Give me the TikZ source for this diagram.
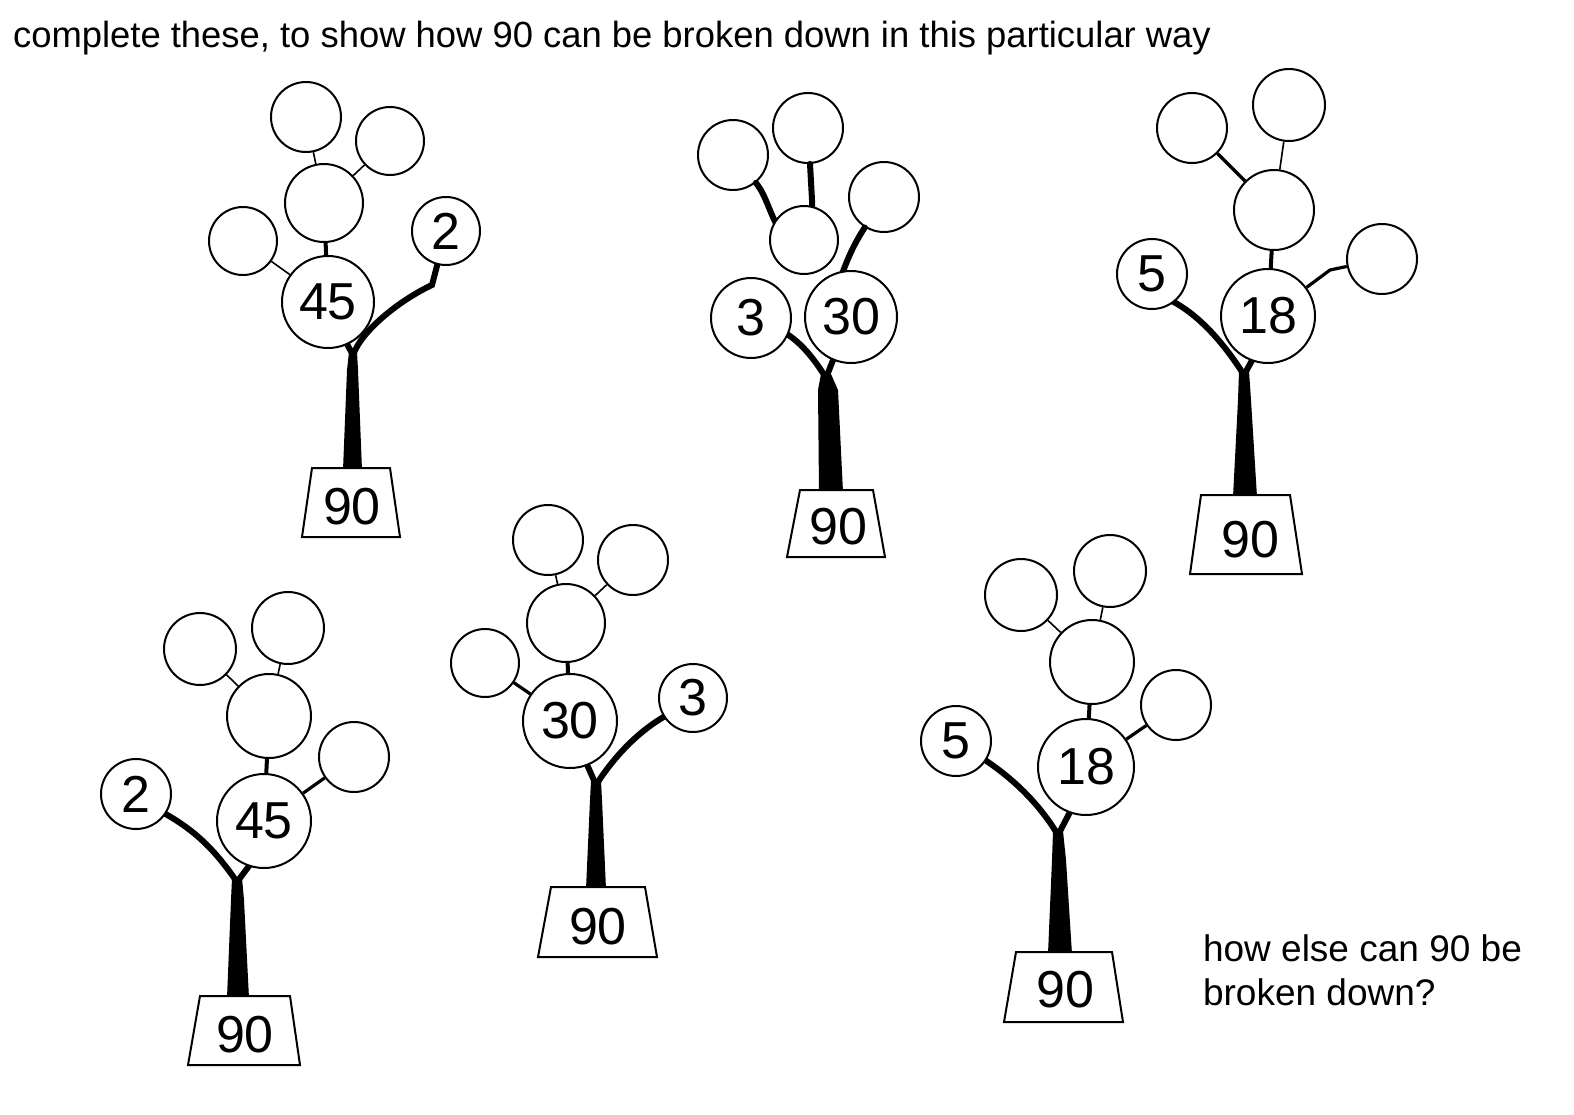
\documentclass[tikz,border=0pt]{standalone}
\usepackage{fontspec}
\setmainfont{Liberation Sans}
\begin{document}
\begin{tikzpicture}[x=0.5pt,y=-0.5pt,
  circ/.style={circle,draw,line width=1pt,fill=white,inner sep=0pt,font=\fontsize{26}{28}\selectfont},
  pot/.style={draw,line width=1pt,fill=white},
  twig/.style={line width=0.8pt},
  branch/.style={line width=3pt,line cap=round},
  potlabel/.style={font=\fontsize{26}{28}\selectfont}]
\useasboundingbox (0,0) rectangle (1574,1114);
\node[anchor=west,font=\fontsize{18.2}{20}\selectfont] (title) at (6,38) {complete these, to show how 90 can be broken down in this particular way};
\node[anchor=north west,align=left,font=\fontsize{18.5}{22}\selectfont] (q) at (1196,928) {how else can 90 be\\broken down?};

% Tree 1
\coordinate (t1) at (353,355);
\fill (343,470) -- (362,470) -- (358,370) -- (357,352) -- (349,352) -- (347,370) -- cycle;
\draw[branch] (t1) .. controls (362,330) and (400,300) .. (432,285) -- (438,262);
\draw[branch] (t1) -- (342,335);
\draw[pot] (312,468) -- (390,468) -- (400,537) -- (302,537) -- cycle;
\node[potlabel] (p1) at (352,507) {90};
\node[circ,minimum size=46pt] (a1) at (328,302) {45};
\node[circ,minimum size=34pt] (b1) at (446,231) {2};
\node[circ,minimum size=34pt] (c1) at (243,241) {};
\node[circ,minimum size=39pt] (d1) at (324,203) {};
\node[circ,minimum size=35pt] (e1) at (306,117) {};
\node[circ,minimum size=34pt] (f1) at (390,141) {};
\draw[twig] (a1) -- (c1); \draw[line width=2pt] (a1) -- (d1); \draw[twig] (d1) -- (e1); \draw[twig] (d1) -- (f1);

% Tree 2
\coordinate (t2) at (826,378);
\fill (819,492) -- (843,492) -- (838,390) -- (831,374) -- (821,374) -- (818,390) -- cycle;
\draw[branch] (t2) .. controls (815,360) and (800,340) .. (780,330);
\draw[branch] (t2) -- (835,355);
\draw[pot] (800,490) -- (873,490) -- (885,557) -- (787,557) -- cycle;
\node[potlabel] (p2) at (838,527) {90};
\node[circ,minimum size=35pt] (e2) at (733,155) {};
\node[circ,minimum size=35pt] (f2) at (808,128) {};
\node[circ,minimum size=35pt] (h2) at (884,197) {};
\draw[branch] (795,250) .. controls (770,225) and (770,200) .. (e2);
\draw[branch] (812,250) -- (812,200) -- (f2);
\draw[branch] (840,280) .. controls (850,250) and (860,235) .. (h2);
\node[circ,minimum size=34pt] (g2) at (804,240) {};
\node[circ,minimum size=40pt] (b2) at (751,318) {3};
\node[circ,minimum size=46pt] (a2) at (851,317) {30};

% Tree 3
\coordinate (t3) at (1244,375);
\fill (1233,497) -- (1257,497) -- (1251,400) -- (1249,371) -- (1239,371) -- (1238,400) -- cycle;
\draw[branch] (t3) .. controls (1225,345) and (1200,315) .. (1170,300);
\draw[branch] (t3) -- (1255,355);
\draw[pot] (1201,495) -- (1290,495) -- (1302,574) -- (1190,574) -- cycle;
\node[potlabel] (p3) at (1250,540) {90};
\node[circ,minimum size=47pt] (a3) at (1268,316) {18};
\node[circ,minimum size=35pt] (b3) at (1152,274) {5};
\node[circ,minimum size=35pt] (c3) at (1382,259) {};
\node[circ,minimum size=40pt] (d3) at (1274,210) {};
\node[circ,minimum size=35pt] (e3) at (1192,128) {};
\node[circ,minimum size=36pt] (f3) at (1289,105) {};
\draw[line width=1.6pt] (a3) -- (1330,270) -- (c3); \draw[line width=2pt] (a3) -- (d3); \draw[line width=1.6pt] (d3) -- (e3); \draw[twig] (d3) -- (f3);

% Tree 4
\coordinate (t4) at (237,882);
\fill (227,998) -- (249,998) -- (244,900) -- (242,878) -- (232,878) -- (231,900) -- cycle;
\draw[branch] (t4) .. controls (215,850) and (195,830) .. (162,812);
\draw[branch] (t4) -- (252,862);
\draw[pot] (200,996) -- (290,996) -- (300,1065) -- (188,1065) -- cycle;
\node[potlabel] (p4) at (245,1035) {90};
\node[circ,minimum size=47pt] (a4) at (264,821) {45};
\node[circ,minimum size=35pt] (b4) at (136,794) {2};
\node[circ,minimum size=35pt] (c4) at (354,757) {};
\node[circ,minimum size=42pt] (d4) at (269,716) {};
\node[circ,minimum size=36pt] (e4) at (200,649) {};
\node[circ,minimum size=36pt] (f4) at (288,628) {};
\draw[line width=1.6pt] (a4) -- (c4); \draw[line width=2pt] (a4) -- (d4); \draw[twig] (d4) -- (e4); \draw[twig] (d4) -- (f4);

% Tree 5
\coordinate (t5) at (596,785);
\fill (586,889) -- (606,889) -- (602,800) -- (601,781) -- (591,781) -- (590,800) -- cycle;
\draw[branch] (t5) .. controls (615,755) and (640,730) .. (667,715);
\draw[branch] (t5) -- (585,760);
\draw[pot] (551,887) -- (645,887) -- (657,957) -- (538,957) -- cycle;
\node[potlabel] (p5) at (598,927) {90};
\node[circ,minimum size=47pt] (a5) at (570,721) {30};
\node[circ,minimum size=34pt] (b5) at (693,698) {3};
\node[circ,minimum size=34pt] (c5) at (485,663) {};
\node[circ,minimum size=39pt] (d5) at (566,623) {};
\node[circ,minimum size=35pt] (e5) at (548,540) {};
\node[circ,minimum size=35pt] (f5) at (633,560) {};
\draw[line width=1.6pt] (a5) -- (c5); \draw[line width=2pt] (a5) -- (d5); \draw[twig] (d5) -- (e5); \draw[twig] (d5) -- (f5);

% Tree 6
\coordinate (t6) at (1058,835);
\fill (1048,954) -- (1072,954) -- (1066,860) -- (1063,831) -- (1053,831) -- (1052,860) -- cycle;
\draw[branch] (t6) .. controls (1040,805) and (1015,780) .. (985,760);
\draw[branch] (t6) -- (1070,812);
\draw[pot] (1016,952) -- (1112,952) -- (1123,1022) -- (1004,1022) -- cycle;
\node[potlabel] (p6) at (1065,990) {90};
\node[circ,minimum size=48pt] (a6) at (1086,767) {18};
\node[circ,minimum size=35pt] (b6) at (956,741) {5};
\node[circ,minimum size=35pt] (c6) at (1176,705) {};
\node[circ,minimum size=42pt] (d6) at (1092,662) {};
\node[circ,minimum size=36pt] (e6) at (1021,595) {};
\node[circ,minimum size=36pt] (f6) at (1110,571) {};
\draw[line width=1.6pt] (a6) -- (c6); \draw[line width=2pt] (a6) -- (d6); \draw[twig] (d6) -- (e6); \draw[twig] (d6) -- (f6);
\end{tikzpicture}
\end{document}
